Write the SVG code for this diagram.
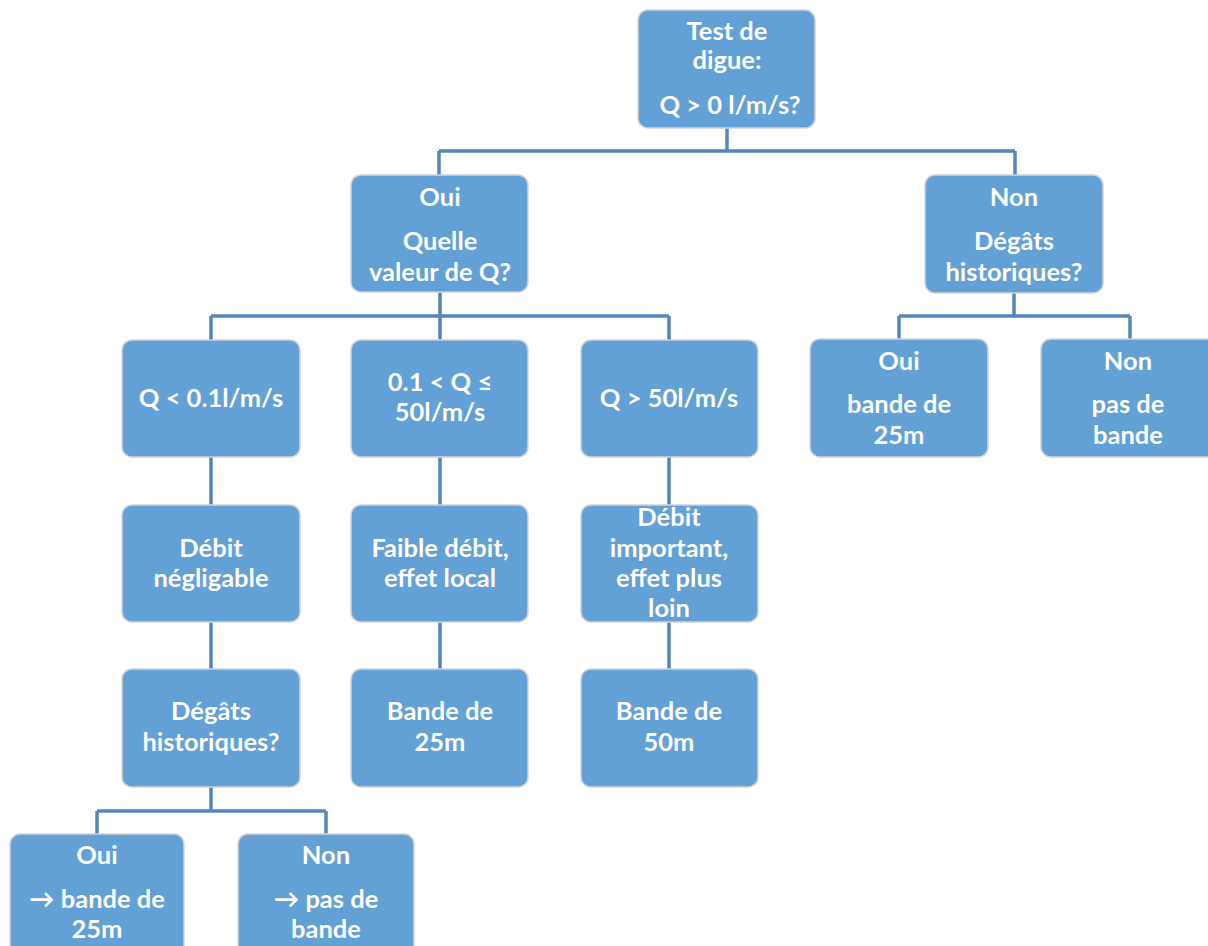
<svg xmlns="http://www.w3.org/2000/svg" width="1208" height="946" viewBox="0 0 1208 946">
<style>
.box{fill:#62a0d6;stroke:#d2d2d2;stroke-width:1.5}
.t{font-family:Lato,"Open Sans","Liberation Sans",sans-serif;font-weight:bold;font-size:25.5px;fill:#ffffff;text-anchor:middle}
.c{fill:none;stroke:#5586bb;stroke-width:3.5}
</style>
<rect width="1208" height="946" fill="#ffffff"/>
<g id="connectors">
<path class="c" d="M727 128V151M439 151H1015M439 151V175M1015 151V175"/>
<path class="c" d="M440 292V316M211 316H669M211 316V340M440 316V340M669 316V340"/>
<path class="c" d="M1014 293V316M899 316H1130M899 316V339M1130 316V339"/>
<path class="c" d="M211 457V505M211 622V669M440 457V505M440 622V669M669 457V505M669 622V669"/>
<path class="c" d="M211 787V811M97 811H326M97 811V834M326 811V834"/>
</g>
<g id="n_top"><rect class="box" x="638" y="10" width="177" height="118" rx="10"/>
<text class="t" x="727" y="40">Test de</text><text class="t" x="727" y="69">digue:</text><text class="t" x="730" y="114">Q &gt; 0 l/m/s?</text></g>
<g id="n_oui"><rect class="box" x="351" y="175" width="177" height="117" rx="10"/>
<text class="t" x="440" y="206">Oui</text><text class="t" x="440" y="250">Quelle</text><text class="t" x="440" y="281">valeur de Q?</text></g>
<g id="n_non"><rect class="box" x="925" y="175" width="178" height="118" rx="10"/>
<text class="t" x="1014" y="206">Non</text><text class="t" x="1014" y="250">Dégâts</text><text class="t" x="1014" y="281">historiques?</text></g>
<g id="n_q1"><rect class="box" x="122" y="340" width="178" height="117" rx="10"/>
<text class="t" x="211" y="407">Q &lt; 0.1l/m/s</text></g>
<g id="n_q2"><rect class="box" x="351" y="340" width="177" height="117" rx="10"/>
<text class="t" x="440" y="391">0.1 &lt; Q ≤</text><text class="t" x="440" y="421">50l/m/s</text></g>
<g id="n_q3"><rect class="box" x="581" y="340" width="177" height="117" rx="10"/>
<text class="t" x="669" y="407">Q &gt; 50l/m/s</text></g>
<g id="n_non_oui"><rect class="box" x="810" y="339" width="178" height="118" rx="10"/>
<text class="t" x="899" y="370">Oui</text><text class="t" x="899" y="413">bande de</text><text class="t" x="899" y="444">25m</text></g>
<g id="n_non_non"><rect class="box" x="1041" y="339" width="178" height="118" rx="10"/>
<text class="t" x="1128" y="370">Non</text><text class="t" x="1128" y="413">pas de</text><text class="t" x="1128" y="444">bande</text></g>
<g id="n_d1"><rect class="box" x="122" y="505" width="178" height="117" rx="10"/>
<text class="t" x="211" y="557">Débit</text><text class="t" x="211" y="587">négligable</text></g>
<g id="n_d2"><rect class="box" x="351" y="505" width="177" height="117" rx="10"/>
<text class="t" x="440" y="557">Faible débit,</text><text class="t" x="440" y="587">effet local</text></g>
<g id="n_d3"><rect class="box" x="581" y="505" width="177" height="117" rx="10"/>
<text class="t" x="669" y="526">Débit</text><text class="t" x="669" y="557">important,</text><text class="t" x="669" y="587">effet plus</text><text class="t" x="669" y="617">loin</text></g>
<g id="n_h"><rect class="box" x="122" y="669" width="178" height="118" rx="10"/>
<text class="t" x="211" y="720">Dégâts</text><text class="t" x="211" y="751">historiques?</text></g>
<g id="n_b25"><rect class="box" x="351" y="669" width="177" height="118" rx="10"/>
<text class="t" x="440" y="720">Bande de</text><text class="t" x="440" y="751">25m</text></g>
<g id="n_b50"><rect class="box" x="581" y="669" width="177" height="118" rx="10"/>
<text class="t" x="669" y="720">Bande de</text><text class="t" x="669" y="751">50m</text></g>
<g id="n_h_oui"><rect class="box" x="10" y="834" width="174" height="124" rx="10"/>
<text class="t" x="97" y="864">Oui</text><text class="t" x="97" y="908">→ bande de</text><text class="t" x="97" y="938">25m</text></g>
<g id="n_h_non"><rect class="box" x="238" y="834" width="176" height="124" rx="10"/>
<text class="t" x="326" y="864">Non</text><text class="t" x="326" y="908">→ pas de</text><text class="t" x="326" y="938">bande</text></g>
</svg>
